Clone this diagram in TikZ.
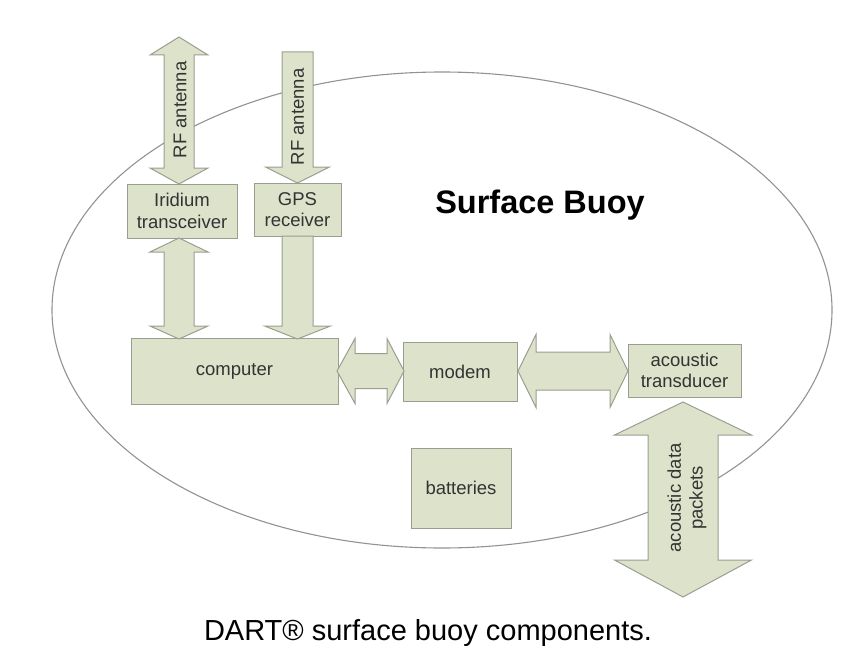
\documentclass[tikz,border=0pt]{standalone}
\usepackage{fontspec}
\setmainfont{Liberation Sans}
\definecolor{boxfill}{HTML}{DDE2CB}
\definecolor{boxline}{HTML}{9A9E90}
\definecolor{ellline}{HTML}{929292}
\definecolor{lbl}{HTML}{333333}
\tikzset{
  box/.style={draw=boxline, fill=boxfill, line width=1pt, rectangle, inner sep=0pt,
    font=\fontsize{18.5}{21.7}\selectfont, text=lbl, align=center},
  arrowst/.style={draw=boxline, fill=boxfill, line width=1pt, line join=miter},
  arrlbl/.style={font=\fontsize{18.5}{21.7}\selectfont, text=lbl, align=center, rotate=90, inner sep=0pt}
}
% vertical double arrow: x, ytop, ybot, shaft half, head half, head len top, head len bottom
\newcommand\vdblarrow[7]{%
  \filldraw[arrowst] (#1,#2) -- (#1+#5,#2+#6) -- (#1+#4,#2+#6) -- (#1+#4,#3-#7) -- (#1+#5,#3-#7)
   -- (#1,#3) -- (#1-#5,#3-#7) -- (#1-#4,#3-#7) -- (#1-#4,#2+#6) -- (#1-#5,#2+#6) -- cycle;}
% vertical single arrow pointing down: x, ytop, ytip, shaft half, head half, head len
\newcommand\vsglarrow[6]{%
  \filldraw[arrowst] (#1-#4,#2) -- (#1+#4,#2) -- (#1+#4,#3-#6) -- (#1+#5,#3-#6) -- (#1,#3)
   -- (#1-#5,#3-#6) -- (#1-#4,#3-#6) -- cycle;}
% horizontal double arrow: y, xleft, xright, shaft half, head half, head len left, head len right
\newcommand\hdblarrow[7]{%
  \filldraw[arrowst] (#2,#1) -- (#2+#6,#1-#5) -- (#2+#6,#1-#4) -- (#3-#7,#1-#4) -- (#3-#7,#1-#5)
   -- (#3,#1) -- (#3-#7,#1+#5) -- (#3-#7,#1+#4) -- (#2+#6,#1+#4) -- (#2+#6,#1+#5) -- cycle;}
\begin{document}
\begin{tikzpicture}[x=1pt,y=-1pt]
\useasboundingbox (0,0) rectangle (856,666);
% buoy outline
\draw[ellline, line width=1.1pt] (442,310) ellipse [x radius=390, y radius=238];
% boxes
\node[box, minimum width=110pt, minimum height=54pt] (irid) at (182,211) {Iridium\\transceiver};
\node[box, minimum width=87pt, minimum height=53pt] (gps) at (297.5,209.5) {GPS\\receiver};
\node[box, minimum width=207pt, minimum height=66pt] (comp) at (234.5,371) {computer};
\node[box, minimum width=114pt, minimum height=59pt] (modem) at (460,371.5) {modem};
\node[box, minimum width=113pt, minimum height=53pt] (trans) at (684.5,370.5) {acoustic\\transducer};
\node[box, minimum width=100pt, minimum height=80pt] (batt) at (461,488) {batteries};
% block arrows
\vdblarrow{179}{37}{184}{15}{29}{18}{16}
\vdblarrow{179}{238}{339}{15}{29}{14}{13}
\vsglarrow{297.5}{52}{183}{15.5}{32}{16}
\vsglarrow{297.5}{236}{339}{15.5}{33}{13}
\hdblarrow{371}{337}{404}{17.5}{32.5}{18}{17}
\hdblarrow{371}{518}{628}{19}{36.5}{18}{18}
\vdblarrow{683}{402}{597}{35}{68.5}{33}{37}
% arrow labels
\node[arrlbl] (rf1) at (180,110) {RF antenna};
\node[arrlbl] (rf2) at (297.5,117) {RF antenna};
\node[arrlbl] (adp) at (687,498) {acoustic data\\packets};
% titles
\node[font=\fontsize{32.5}{38}\selectfont\bfseries, inner sep=0pt] (title) at (540,205) {Surface Buoy};
\node[font=\fontsize{29}{34}\selectfont, inner sep=0pt] (cap) at (428,633) {DART® surface buoy components.};
\end{tikzpicture}
\end{document}
